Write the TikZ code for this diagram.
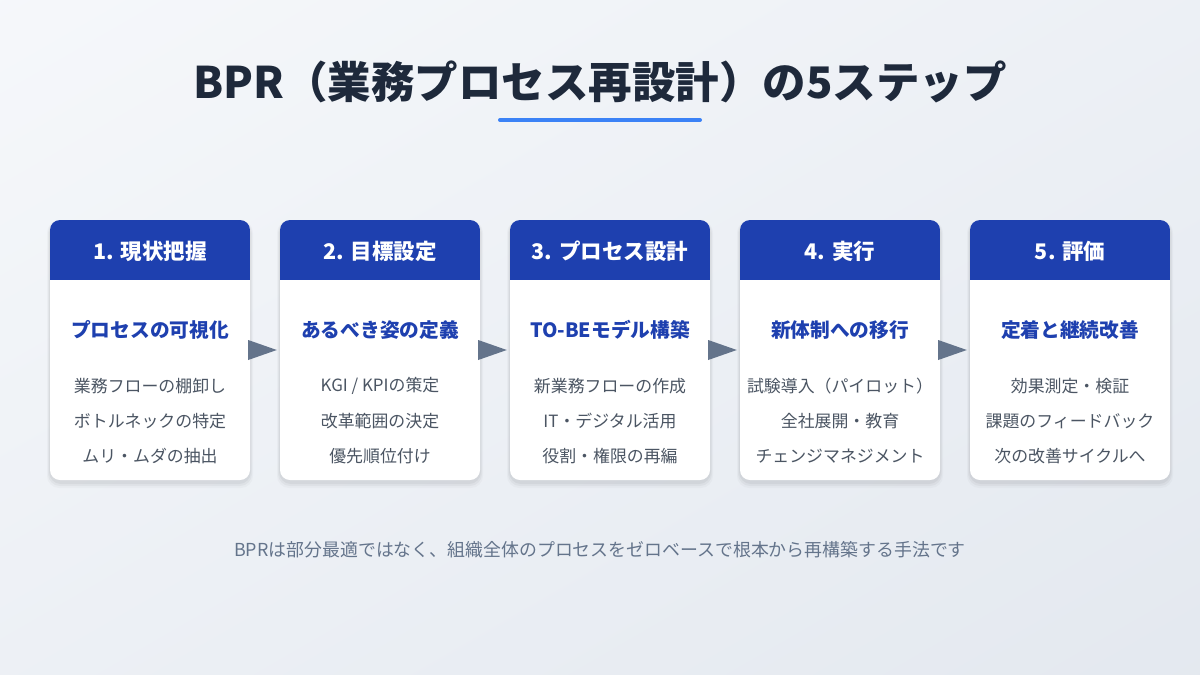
\documentclass[tikz,border=0pt]{standalone}
\usepackage{fontspec}
\setmainfont{Noto Sans CJK JP}
\usetikzlibrary{calc}
\definecolor{hblue}{HTML}{1E40AF}
\definecolor{titlecol}{HTML}{1E293B}
\definecolor{linecol}{HTML}{3B82F6}
\definecolor{itemgray}{HTML}{4B5563}
\definecolor{arrowgray}{HTML}{64748B}
\definecolor{footgray}{HTML}{64748B}
\definecolor{bgA}{HTML}{F6F8FB}
\definecolor{bgB}{HTML}{E3E8EF}
\tikzset{
  cardbox/.style={fill=white, rounded corners=10pt, minimum width=200pt, minimum height=260pt, inner sep=0pt, draw=none},
  headtxt/.style={text=white, font=\bfseries\fontsize{21.5}{25}\selectfont, inner sep=0pt},
  subtxt/.style={text=hblue, font=\bfseries\fontsize{19.7}{23}\selectfont, inner sep=0pt},
  itemtxt/.style={text=itemgray, font=\fontsize{16.9}{20}\selectfont, inner sep=0pt},
  flow/.style={fill=arrowgray},
  titletxt/.style={text=titlecol, font=\bfseries\fontsize{43.5}{52}\selectfont, inner sep=0pt},
  foottxt/.style={text=footgray, font=\fontsize{17.9}{21}\selectfont, inner sep=0pt}
}
\begin{document}
\begin{tikzpicture}[x=1pt,y=-1pt]
\useasboundingbox (0,0) rectangle (1200,675);
\shade[top color=bgA, bottom color=bgB, shading angle=30] (-200,-200) rectangle (1400,875);

\node[titletxt] (title) at (600,82) {BPR（業務プロセス再設計）の5ステップ};
\coordinate (ulL) at (500,120);
\coordinate (ulR) at (700,120);
\draw[linecol, line width=4pt, line cap=round] (ulL) -- (ulR);

\foreach \i/\x/\head/\sub/\a/\b/\c in {
  1/150/{1. 現状把握}/{プロセスの可視化}/{業務フローの棚卸し}/{ボトルネックの特定}/{ムリ・ムダの抽出},
  2/380/{2. 目標設定}/{あるべき姿の定義}/{KGI / KPIの策定}/{改革範囲の決定}/{優先順位付け},
  3/610/{3. プロセス設計}/{TO-BEモデル構築}/{新業務フローの作成}/{IT・デジタル活用}/{役割・権限の再編},
  4/840/{4. 実行}/{新体制への移行}/{試験導入（パイロット）}/{全社展開・教育}/{チェンジマネジメント},
  5/1070/{5. 評価}/{定着と継続改善}/{効果測定・検証}/{課題のフィードバック}/{次の改善サイクルへ}}{
  \foreach \s/\o in {6/0.025,4/0.035,2/0.045}{
    \fill[black, opacity=\o, rounded corners=12pt] (\x-100-\s/2,220-\s/4+2) rectangle (\x+100+\s/2,480+\s+2);
  }
  \node[cardbox] (card\i) at (\x,350) {};
  \begin{scope}
    \clip[rounded corners=10pt] (\x-100,220) rectangle (\x+100,480);
    \fill[hblue] (\x-100,220) rectangle (\x+100,280);
  \end{scope}
  \node[headtxt] (head\i) at (\x,251) {\head};
  \node[subtxt] (sub\i) at (\x,330) {\sub};
  \node[itemtxt] (ia\i) at (\x,386) {\a};
  \node[itemtxt] (ib\i) at (\x,421) {\b};
  \node[itemtxt] (ic\i) at (\x,456) {\c};
}
\foreach \i/\j in {1/2,2/3,3/4,4/5}{
  \fill[flow] ($(card\i.east)+(-2,-10)$) -- ($(card\j.west)+(-3,0)$) -- ($(card\i.east)+(-2,10)$) -- cycle;
}
\node[foottxt] (foot) at (600,550) {BPRは部分最適ではなく、組織全体のプロセスをゼロベースで根本から再構築する手法です};
\end{tikzpicture}
\end{document}
